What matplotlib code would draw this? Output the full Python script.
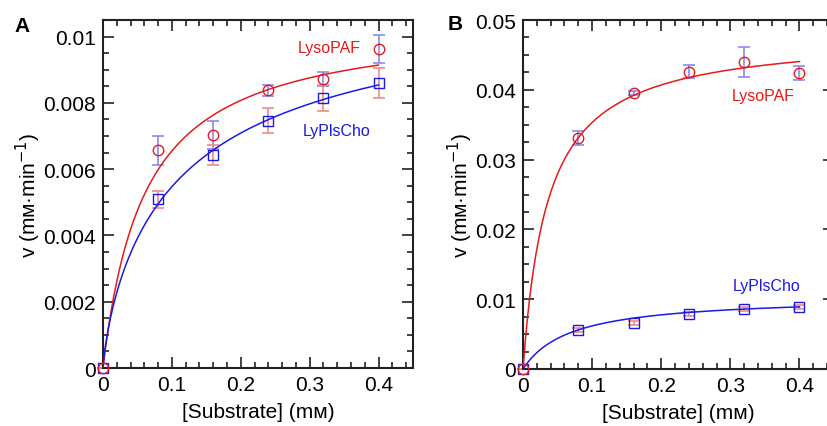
import numpy as np
import matplotlib
matplotlib.use("Agg")
import matplotlib.pyplot as plt
from matplotlib.ticker import MultipleLocator, FixedLocator, FixedFormatter

plt.rcParams['font.family'] = ['Liberation Sans', 'DejaVu Sans']

# ---- data ----
substrate = [0.0, 0.08, 0.16, 0.24, 0.32, 0.40]

# Panel A
a_lyso = [0.0, 0.00657, 0.00702, 0.00838, 0.00872, 0.00963]
a_lyso_err = [0.0, 0.00043, 0.00042, 0.00016, 0.00020, 0.00042]
a_lypls = [0.0, 0.00509, 0.00644, 0.00746, 0.00814, 0.00860]
a_lypls_err = [0.0, 0.00025, 0.00030, 0.00038, 0.00040, 0.00045]

# Panel B
b_lyso = [0.0, 0.0331, 0.0396, 0.0426, 0.0440, 0.0424]
b_lyso_err = [0.0, 0.0010, 0.0003, 0.0009, 0.0021, 0.0010]
b_lypls = [0.0, 0.0056, 0.0066, 0.0079, 0.0086, 0.0089]
b_lypls_err = [0.0, 0.0003, 0.0003, 0.0003, 0.0003, 0.0003]

# fitted kinetic parameters (Vmax, Km, n)
a_lyso_fit = (0.01053, 0.0608, 1.0)
a_lypls_fit = (0.0118, 0.12, 0.8)
b_lyso_fit = (0.0480, 0.0359, 1.0)
b_lypls_fit = (0.01044, 0.0691, 1.0)

x_ticks = [0, 0.1, 0.2, 0.3, 0.4]
x_ticklabels = ['0', '0.1', '0.2', '0.3', '0.4']
a_yticks = [0, 0.002, 0.004, 0.006, 0.008, 0.01]
a_yticklabels = ['0', '0.002', '0.004', '0.006', '0.008', '0.01']
b_yticks = [0, 0.01, 0.02, 0.03, 0.04, 0.05]
b_yticklabels = ['0', '0.01', '0.02', '0.03', '0.04', '0.05']

RED = '#e41a1c'
BLUE = '#1a1ae4'
RED_ERR = '#f08a8a'
BLUE_ERR = '#8a8af0'


def hill(x, p):
    V, K, n = p
    x = np.asarray(x)
    return V * x**n / (K**n + x**n)


fig = plt.figure(figsize=(8.27, 4.27), dpi=100)
axA = fig.add_axes([0.1245, 0.1358, 0.3749, 0.8150])
axB = fig.add_axes([0.6324, 0.1335, 0.3761, 0.8173])


def style(ax, ymax, yticks, yticklabels, yminor):
    ax.set_xlim(0, 0.45)
    ax.set_ylim(0, ymax)
    ax.xaxis.set_major_locator(FixedLocator(x_ticks))
    ax.xaxis.set_major_formatter(FixedFormatter(x_ticklabels))
    ax.xaxis.set_minor_locator(MultipleLocator(0.02))
    ax.yaxis.set_major_locator(FixedLocator(yticks))
    ax.yaxis.set_major_formatter(FixedFormatter(yticklabels))
    ax.yaxis.set_minor_locator(MultipleLocator(yminor))
    ax.tick_params(which='both', direction='in', top=True, right=True,
                   width=1.2, colors='#222222', labelcolor='black')
    ax.tick_params(which='major', length=8, labelsize=15, pad=5)
    ax.tick_params(which='minor', length=4)
    for s in ax.spines.values():
        s.set_linewidth(1.5)
        s.set_color('#222222')
    ax.set_xlabel('[Substrate] (mᴍ)', fontsize=15, labelpad=6)
    ax.set_ylabel('v (mᴍ·min$^{-1}$)', fontsize=15, labelpad=0)


xs = np.linspace(0, 0.4, 400)


def draw(ax, lyso, lyso_err, lypls, lypls_err, fit_lyso, fit_lypls):
    ax.plot(xs, hill(xs, fit_lyso), color=RED, lw=1.1, zorder=3)
    ax.plot(xs, hill(xs, fit_lypls), color=BLUE, lw=1.1, zorder=3)
    ax.errorbar(substrate, lyso, yerr=lyso_err, fmt='none', ecolor=BLUE_ERR,
                elinewidth=1.2, capsize=4, capthick=1.2, zorder=2, clip_on=False)
    ax.errorbar(substrate, lypls, yerr=lypls_err, fmt='none', ecolor=RED_ERR,
                elinewidth=1.2, capsize=4, capthick=1.2, zorder=2, clip_on=False)
    ax.plot(substrate, lypls, 's', ms=7.5, mfc='none', mec=BLUE, mew=1.0,
            zorder=4, clip_on=False)
    ax.plot(substrate, lyso, 'o', ms=7.5, mfc='none', mec=RED, mew=1.0,
            zorder=5, clip_on=False)


style(axA, 0.0105, a_yticks, a_yticklabels, 0.0005)
draw(axA, a_lyso, a_lyso_err, a_lypls, a_lypls_err, a_lyso_fit, a_lypls_fit)
axA.text(0.329, 0.00967, 'LysoPAF', color=RED, fontsize=11.5, ha='center', va='center')
axA.text(0.339, 0.00717, 'LyPlsCho', color=BLUE, fontsize=11.5, ha='center', va='center')

style(axB, 0.05, b_yticks, b_yticklabels, 0.0025)
draw(axB, b_lyso, b_lyso_err, b_lypls, b_lypls_err, b_lyso_fit, b_lypls_fit)
axB.text(0.347, 0.0392, 'LysoPAF', color=RED, fontsize=11.5, ha='center', va='center')
axB.text(0.352, 0.0120, 'LyPlsCho', color=BLUE, fontsize=11.5, ha='center', va='center')

fig.text(22 / 827, 1 - 27 / 427, 'A', fontsize=15, fontweight='bold', ha='center', va='center')
fig.text(455 / 827, 1 - 25 / 427, 'B', fontsize=15, fontweight='bold', ha='center', va='center')

fig.savefig('out.png', dpi=100)
